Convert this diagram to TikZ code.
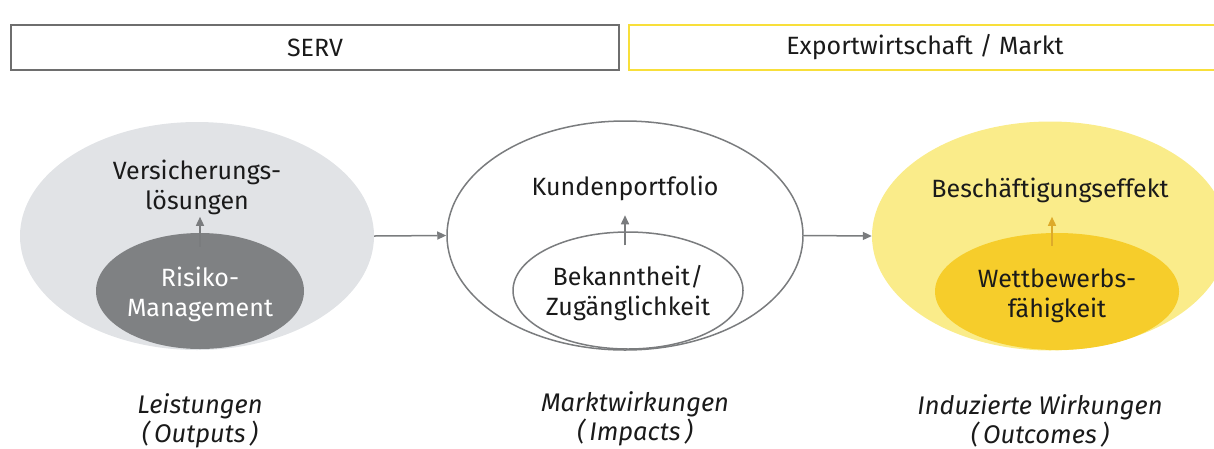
\documentclass[tikz,border=0pt]{standalone}
\usepackage{fontspec}
\setmainfont{Fira Sans}
\usetikzlibrary{shapes.geometric,arrows.meta}
\definecolor{boxgray}{HTML}{6E6E6E}
\definecolor{eyyellow}{HTML}{F8DF3A}
\definecolor{lightgray}{HTML}{E1E3E6}
\definecolor{darkgray}{HTML}{7F8183}
\definecolor{lightyellow}{HTML}{FAEC8A}
\definecolor{golden}{HTML}{F6CD2B}
\definecolor{arrowgray}{HTML}{7A7C7E}
\definecolor{arrowgold}{HTML}{DDAA2A}
\definecolor{txt}{HTML}{1A1A1A}
\tikzset{
  every node/.style={font=\fontsize{25}{30}\selectfont, text=txt},
  topbox/.style={draw, line width=2pt, minimum height=45pt, inner sep=0pt},
  oval/.style={ellipse, inner sep=0pt},
  lbl/.style={align=center, inner sep=0pt},
  captxt/.style={align=center, inner sep=0pt, font=\fontsize{25.5}{29}\selectfont\itshape},
  flowarrow/.style={draw=arrowgray, line width=1.5pt, -{Triangle[length=9pt,width=8pt]}},
  uparrow/.style={line width=1.5pt, -{Triangle[length=9pt,width=8pt]}},
}
\begin{document}
\begin{tikzpicture}[x=1pt,y=-1pt]
\useasboundingbox (0,0) rectangle (1214,448);
\clip (0,0) rectangle (1214,448);
% top boxes
\node[topbox, draw=boxgray, minimum width=608pt] (serv) at (315,47.5) {SERV};
\node[topbox, draw=eyyellow, minimum width=600pt] (markt) at (929,47.5) {};
\node[lbl] (markttxt) at (925,47.5) {Exportwirtschaft / Markt};
% left group
\node[oval, fill=lightgray, minimum width=354pt, minimum height=228pt] (outL) at (197,236) {};
\node[oval, fill=darkgray, minimum width=208pt, minimum height=116pt] (inL) at (200,291) {};
\node[lbl] (vers) at (197,187) {Versicherungs-\\lösungen};
\node[lbl, text=white] (risk) at (200,294) {Risiko-\\Management};
\draw[uparrow, draw=arrowgray] ([yshift=-14pt]inL.north) -- ([yshift=16pt]inL.north);
% middle group
\node[oval, draw=arrowgray, line width=1.5pt, fill=white, minimum width=356pt, minimum height=229pt] (outM) at (625,235.5) {};
\node[oval, draw=arrowgray, line width=1.5pt, minimum width=230pt, minimum height=117pt] (inM) at (628,290.5) {};
\node[lbl] (kunden) at (625,188) {Kundenportfolio};
\node[lbl] (bek) at (628,293) {Bekanntheit/\\Zugänglichkeit};
\draw[uparrow, draw=arrowgray] ([xshift=-3pt,yshift=-14pt]inM.north) -- ([xshift=-3pt,yshift=16pt]inM.north);
% right group
\node[oval, fill=lightyellow, minimum width=356pt, minimum height=229pt] (outR) at (1050,236) {};
\node[oval, fill=golden, minimum width=244pt, minimum height=117pt] (inR) at (1057,291.5) {};
\node[lbl] (besch) at (1050,190) {Beschäftigungseffekt};
\node[lbl] (wett) at (1057,296) {Wettbewerbs-\\fähigkeit};
\draw[uparrow, draw=arrowgold] ([xshift=-5pt,yshift=-13pt]inR.north) -- ([xshift=-5pt,yshift=16pt]inR.north);
% flow arrows
\draw[flowarrow] (outL.east) -- (outM.west);
\draw[flowarrow] (outM.east) -- (outR.west);
% captions
\node[captxt] (c1) at (200,421) {Leistungen\\(\,Outputs\,)};
\node[captxt] (c2) at (635,419) {Marktwirkungen\\(\,Impacts\,)};
\node[captxt] (c3) at (1040,421) {Induzierte Wirkungen\\(\,Outcomes\,)};
\end{tikzpicture}
\end{document}
